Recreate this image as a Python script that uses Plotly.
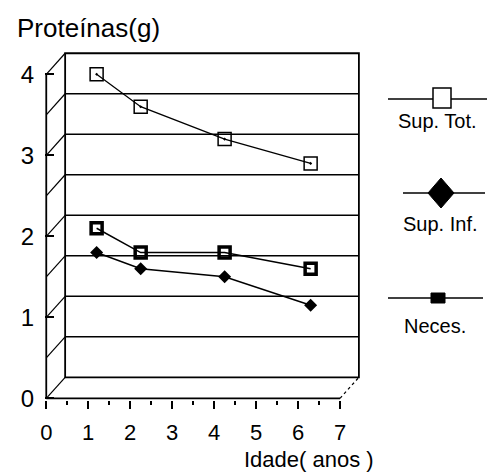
import plotly.graph_objects as go

# ---- data ----
idade = [1.2, 2.25, 4.25, 6.3]
sup_tot = [4.0, 3.6, 3.2, 2.9]
sup_inf = [1.8, 1.6, 1.5, 1.15]
neces = [2.1, 1.8, 1.8, 1.6]
x_ticks = [0, 1, 2, 3, 4, 5, 6, 7]
x_minor = [0.5, 1.5, 2.5, 3.5, 4.5, 5.5, 6.5]
y_ticks = [0, 1, 2, 3, 4]
grid_levels = [0, 0.5, 1, 1.5, 2, 2.5, 3, 3.5, 4]
legend_names = ["Sup. Tot.", "Sup. Inf.", "Neces."]

FONT = "Liberation Sans, Arial, sans-serif"
W, H = 493, 475
L, R, T, B = 45, 132, 50, 75
PW, PH = W - L - R, H - T - B

def PX(p):
    return (p - L) / PW

def PY(p):
    return (H - B - p) / PH

DX, DY = 0.45, 0.26  # depth offset of the back wall (data units)
XMAX, YMAX = 7, 4

fig = go.Figure()

fig.add_trace(go.Scatter(x=idade, y=sup_tot, mode="lines+markers", name=legend_names[0],
                         line=dict(color="black", width=1.3),
                         marker=dict(symbol="square-open-dot", size=13, color="black",
                                     line=dict(width=1.5, color="black"))))
fig.add_trace(go.Scatter(x=idade, y=neces, mode="lines+markers", name=legend_names[2],
                         line=dict(color="black", width=1.5),
                         marker=dict(symbol="square-open", size=11, color="black",
                                     line=dict(width=3.5, color="black"))))
fig.add_trace(go.Scatter(x=idade, y=sup_inf, mode="lines+markers", name=legend_names[1],
                         line=dict(color="black", width=1.5),
                         marker=dict(symbol="diamond", size=10, color="black")))

shapes = []
# back wall
shapes.append(dict(type="rect", xref="x", yref="y", x0=DX, x1=XMAX + DX, y0=DY, y1=YMAX + DY,
                   line=dict(color="black", width=1.8), layer="below"))
for v in grid_levels[1:-1]:
    shapes.append(dict(type="line", xref="x", yref="y", x0=DX, x1=XMAX + DX, y0=v + DY, y1=v + DY,
                       line=dict(color="black", width=1.4), layer="below"))
# left wall diagonals
for v in grid_levels:
    shapes.append(dict(type="line", xref="x", yref="y", x0=0, x1=DX, y0=v, y1=v + DY,
                       line=dict(color="black", width=1.2), layer="below"))
# front axes
shapes.append(dict(type="line", xref="x", yref="y", x0=0, x1=0, y0=0, y1=YMAX,
                   line=dict(color="black", width=1.8), layer="below"))
shapes.append(dict(type="line", xref="x", yref="y", x0=0, x1=XMAX, y0=0, y1=0,
                   line=dict(color="black", width=1.8), layer="below"))
# floor right edge
shapes.append(dict(type="line", xref="x", yref="y", x0=XMAX, x1=XMAX + DX, y0=0, y1=DY,
                   line=dict(color="black", width=1.2, dash="dot"), layer="below"))

# legend symbols (manual, paper coordinates)
def hline(x0, x1, y):
    return dict(type="line", xref="paper", yref="paper", x0=PX(x0), x1=PX(x1), y0=PY(y), y1=PY(y),
                line=dict(color="black", width=1.5))

shapes.append(hline(388, 487, 99))
shapes.append(dict(type="rect", xref="paper", yref="paper", x0=PX(433), x1=PX(451), y0=PY(88), y1=PY(108),
                   line=dict(color="black", width=1.5), fillcolor="white"))
shapes.append(hline(403, 485, 193))
shapes.append(dict(type="path", xref="paper", yref="paper",
                   path="M {a},{b} L {c},{d} L {e},{b} L {c},{f} Z".format(
                       a=PX(428), b=PY(193), c=PX(441), d=PY(178), e=PX(454), f=PY(208)),
                   line=dict(color="black", width=1), fillcolor="black"))
shapes.append(hline(388, 483, 298))
shapes.append(dict(type="rect", xref="paper", yref="paper", x0=PX(431), x1=PX(445), y0=PY(293), y1=PY(303),
                   line=dict(color="black", width=1), fillcolor="black"))

annotations = [
    dict(text="Proteínas(g)", xref="paper", yref="paper", x=PX(88), y=PY(28), showarrow=False,
         font=dict(family=FONT, size=26, color="black"), xanchor="center", yanchor="middle"),
    dict(text="Idade( anos )", xref="paper", yref="paper", x=PX(309), y=PY(459), showarrow=False,
         font=dict(family=FONT, size=22, color="black"), xanchor="center", yanchor="middle"),
    dict(text=legend_names[0], xref="paper", yref="paper", x=PX(437), y=PY(121), showarrow=False,
         font=dict(family=FONT, size=20, color="black"), xanchor="center", yanchor="middle"),
    dict(text=legend_names[1], xref="paper", yref="paper", x=PX(440), y=PY(224), showarrow=False,
         font=dict(family=FONT, size=20, color="black"), xanchor="center", yanchor="middle"),
    dict(text=legend_names[2], xref="paper", yref="paper", x=PX(435), y=PY(326), showarrow=False,
         font=dict(family=FONT, size=20, color="black"), xanchor="center", yanchor="middle"),
]

fig.update_layout(
    width=W, height=H, autosize=False,
    margin=dict(l=L, r=R, t=T, b=B),
    paper_bgcolor="white", plot_bgcolor="white",
    showlegend=False, hovermode=False,
    shapes=shapes, annotations=annotations,
    xaxis=dict(range=[-0.03, 7.5], tickvals=x_ticks, ticktext=[str(v) for v in x_ticks],
               ticks="outside", ticklen=8, tickwidth=1.5, tickcolor="black",
               minor=dict(tickvals=x_minor, ticks="outside", ticklen=4, tickwidth=1.5,
                          tickcolor="black", showgrid=False),
               showgrid=False, zeroline=False, showline=False, automargin=False,
               tickfont=dict(family=FONT, size=22, color="black"), ticklabelstandoff=5),
    yaxis=dict(range=[-0.02, 4.3], tickvals=y_ticks, ticktext=[str(v) for v in y_ticks],
               ticks="inside", ticklen=9, tickwidth=1.5, tickcolor="black",
               showgrid=False, zeroline=False, showline=False, automargin=False,
               tickfont=dict(family=FONT, size=24, color="black"), ticklabelstandoff=10),
)

fig.write_html("out.html", config={"displayModeBar": False},
               post_script="document.body.style.margin='0';document.body.style.padding='0';")
